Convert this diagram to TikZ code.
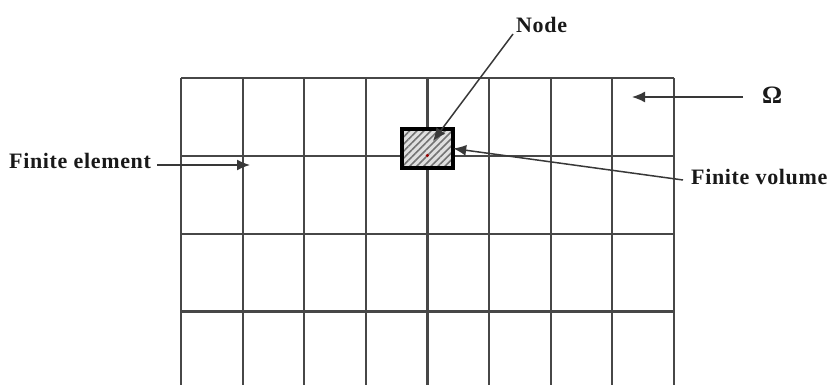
\documentclass[tikz,border=0pt]{standalone}
\usepackage{fontspec}
\setmainfont{Liberation Serif}
\usetikzlibrary{arrows.meta,patterns.meta}
\begin{document}
\begin{tikzpicture}[x=1pt,y=-1pt,
  gridline/.style={line width=2.2pt,draw=black!72},
  pointer/.style={line width=1.5pt,draw=black!78,-{Latex[length=13pt,width=11pt]}},
  lbl/.style={font=\bfseries\fontsize{22}{24}\selectfont\addfontfeatures{LetterSpace=3},
    inner sep=0pt,text=black!90},
  fvbox/.style={fill=black!12,
    postaction={pattern={Lines[angle=45,distance=5pt,line width=1.6pt]},pattern color=black!55},
    postaction={draw=black,line width=3.2pt},
    minimum width=51pt,minimum height=39pt,inner sep=0pt}]
\useasboundingbox (0,0) rectangle (832,385);
% mesh of the domain
\foreach \i in {0,...,8}
  \draw[gridline] ({181+61.6*\i},78) -- ({181+61.6*\i},386);
\foreach \j in {0,...,3}
  \draw[gridline] (181,{78+77.8*\j}) -- (673.8,{78+77.8*\j});
% control volume around a node
\node[fvbox] (fv) at (427.5,148.5) {};
\fill[red!60!black] (427.4,155.5) circle (1.8pt);
\coordinate (ndtip) at (433,141);
% labels
\node[lbl,anchor=base west] (fe) at (9,168) {Finite element};
\node[lbl,anchor=base west] (fvl) at (691,184) {Finite volume};
\node[lbl,anchor=base west] (nd) at (516,33) {Node};
\node[lbl,anchor=base west,font=\bfseries\fontsize{25}{26}\selectfont] (om) at (762,104) {Ω};
% pointer ends
\coordinate (fetail) at (157,165);
\coordinate (fetip) at (250,165);
\coordinate (fvtail) at (683,180);
\coordinate (ndtail) at (513,34);
\coordinate (omtail) at (743,97);
\coordinate (omtip) at (632,97);
% pointers
\draw[pointer] (fetail) -- (fetip);
\draw[pointer] (fvtail) -- (fv.east);
\draw[pointer] (ndtail) -- (ndtip);
\draw[pointer] (omtail) -- (omtip);
\end{tikzpicture}
\end{document}
